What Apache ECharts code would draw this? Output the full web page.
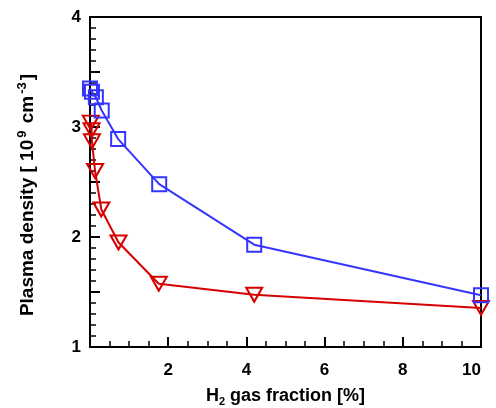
<!DOCTYPE html>
<html>
<head>
<meta charset="utf-8">
<script src="https://cdn.jsdelivr.net/npm/echarts@6/dist/echarts.min.js"></script>
<style>html,body{margin:0;padding:0;background:#fff}#c{width:496px;height:408px}</style>
</head>
<body>
<div id="c"></div>
<script>
// Data
const blueX = [0.0, 0.05, 0.15, 0.3, 0.72, 1.77, 4.2, 10];
const blueY = [3.35, 3.32, 3.27, 3.15, 2.89, 2.48, 1.93, 1.47];
const redX = [0.02, 0.04, 0.05, 0.13, 0.29, 0.73, 1.76, 4.2, 10];
const redY = [3.04, 2.97, 2.87, 2.6, 2.25, 1.95, 1.575, 1.475, 1.355];
const xTickLabels = ['2', '4', '6', '8', '10'];
const yTickLabels = ['1', '2', '3', '4'];

const FONT = '"Liberation Sans", Arial, Helvetica, sans-serif';
const blue = '#3535ff';
const red = '#d60000';

function pairs(xs, ys) { return xs.map((x, i) => [x, ys[i]]); }

const chart = echarts.init(document.getElementById('c'), null, {renderer: 'canvas'});
chart.setOption({
  animation: false,
  backgroundColor: '#fff',
  grid: {left: 90, right: 15, top: 17, bottom: 61, containLabel: false, outerBoundsMode: 'none',
         show: true, borderColor: '#000', borderWidth: 2, backgroundColor: 'transparent'},
  xAxis: {
    type: 'value', min: 0, max: 10, interval: 2,
    axisLine: {show: true, lineStyle: {color: '#000', width: 2}},
    axisTick: {show: true, inside: true, length: 10, lineStyle: {color: '#000', width: 2}},
    minorTick: {show: true, splitNumber: 4, length: 6, lineStyle: {color: '#000', width: 1.5}},
    splitLine: {show: false},
    axisLabel: {
      margin: 15, color: '#000', fontFamily: FONT, fontWeight: 'bold', fontSize: 17,
      alignMaxLabel: 'right',
      formatter: v => xTickLabels.includes(String(v)) ? String(v) : ''
    },
    name: '{b|H}{sub|2}{b| gas fraction [%]}',
    nameLocation: 'middle', nameGap: 38,
    nameTextStyle: {
      color: '#000',
      rich: {
        b: {fontFamily: FONT, fontWeight: 'bold', fontSize: 18, color: '#000', lineHeight: 22},
        sub: {fontFamily: FONT, fontWeight: 'bold', fontSize: 11, color: '#000', verticalAlign: 'bottom', lineHeight: 12}
      }
    }
  },
  yAxis: {
    type: 'value', min: 1, max: 4, interval: 0.5,
    axisLine: {show: true, lineStyle: {color: '#000', width: 2}},
    axisTick: {show: true, inside: true, length: 10, lineStyle: {color: '#000', width: 2}},
    minorTick: {show: true, splitNumber: 5, length: 6, lineStyle: {color: '#000', width: 1.5}},
    splitLine: {show: false},
    axisLabel: {
      margin: 9, color: '#000', fontFamily: FONT, fontWeight: 'bold', fontSize: 17,
      formatter: v => yTickLabels.includes(String(v)) ? String(v) : ''
    },
    name: '{b|Plasma density [ 10}{sup|9}{b| cm}{sup|-3}{b|]}',
    nameLocation: 'middle', nameGap: 51, nameRotate: 90,
    nameTextStyle: {
      color: '#000',
      padding: [0, 26, 0, 0],
      rich: {
        b: {fontFamily: FONT, fontWeight: 'bold', fontSize: 19, color: '#000', lineHeight: 23},
        sup: {fontFamily: FONT, fontWeight: 'bold', fontSize: 13, color: '#000', verticalAlign: 'top', lineHeight: 14, padding: [0, 2, 0, 2]}
      }
    }
  },
  series: [
    {
      type: 'line', data: pairs(redX, redY), clip: false,
      symbol: 'triangle', symbolSize: [16, 14], symbolRotate: 180, showAllSymbol: true,
      lineStyle: {color: red, width: 2},
      itemStyle: {color: 'rgba(0,0,0,0)', borderColor: red, borderWidth: 2},
      z: 3
    },
    {
      type: 'line', data: pairs(blueX, blueY), clip: false,
      symbol: 'rect', symbolSize: 14, showAllSymbol: true,
      lineStyle: {color: blue, width: 2},
      itemStyle: {color: 'rgba(0,0,0,0)', borderColor: blue, borderWidth: 2},
      z: 4
    }
  ]
});
</script>
</body>
</html>
